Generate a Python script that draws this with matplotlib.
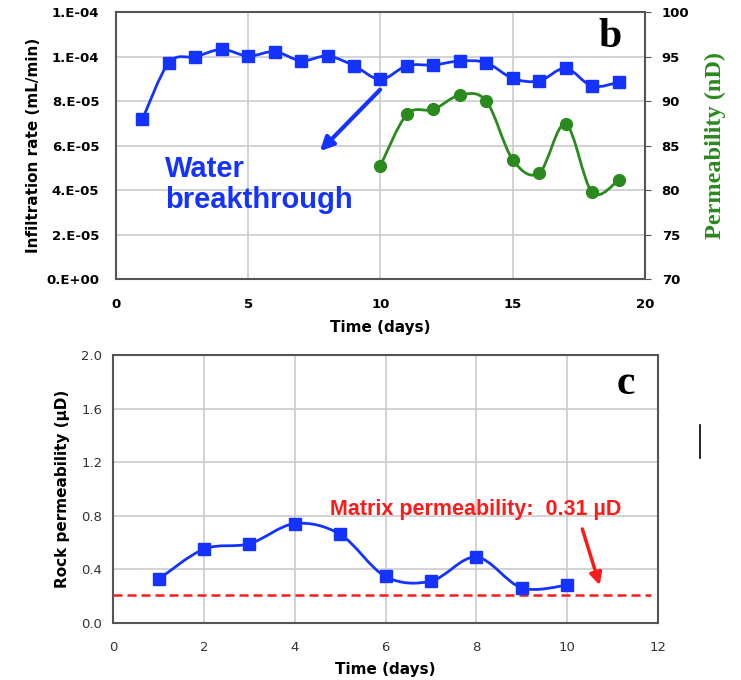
import matplotlib
matplotlib.use("Agg")
from matplotlib import pyplot as plt
from matplotlib.path import Path
from matplotlib.patches import PathPatch
from matplotlib.lines import Line2D

# panel b data
days_b = [1, 2, 3, 4, 5, 6, 7, 8, 9, 10, 11, 12, 13, 14, 15, 16, 17, 18, 19]
infiltration = [7.18e-5, 9.72e-5, 9.99e-5, 1.032e-4, 1.002e-4, 1.022e-4, 9.81e-5,
                1.002e-4, 9.59e-5, 8.97e-5, 9.59e-5, 9.62e-5, 9.80e-5, 9.72e-5,
                9.02e-5, 8.90e-5, 9.47e-5, 8.67e-5, 8.84e-5]
days_perm = [10, 11, 12, 13, 14, 15, 16, 17, 18, 19]
perm_nd = [82.75, 88.5, 89.05, 90.66, 90.0, 83.4, 81.9, 87.4, 79.75, 81.1]
left_ticks = [0, 2e-5, 4e-5, 6e-5, 8e-5, 1.0e-4, 1.2e-4]
left_labels = ["0.E+00", "2.E-05", "4.E-05", "6.E-05", "8.E-05", "1.E-04", "1.E-04"]

# panel c data
days_c = [1, 2, 3, 4, 5, 6, 7, 8, 9, 10]
rock_perm = [0.325, 0.55, 0.59, 0.74, 0.66, 0.345, 0.31, 0.49, 0.26, 0.28]
matrix_level = 0.21

BLUE = "#1433ff"
GREEN = "#2a8a1e"
RED = "#ff1a1a"


def smooth_line(ax, xs, ys, color, **kw):
    """Excel-like smoothed line drawn as cubic Bezier segments"""
    pts = list(zip(xs, ys))
    verts = [pts[0]]
    codes = [Path.MOVETO]
    n = len(pts)
    for i in range(n - 1):
        p0 = pts[i - 1] if i > 0 else pts[i]
        p1 = pts[i]
        p2 = pts[i + 1]
        p3 = pts[i + 2] if i + 2 < n else pts[i + 1]
        c1 = (p1[0] + (p2[0] - p0[0]) / 6, p1[1] + (p2[1] - p0[1]) / 6)
        c2 = (p2[0] - (p3[0] - p1[0]) / 6, p2[1] - (p3[1] - p1[1]) / 6)
        verts += [c1, c2, p2]
        codes += [Path.CURVE4] * 3
    ax.add_patch(PathPatch(Path(verts, codes), facecolor="none", edgecolor=color, **kw))


def style_frame(ax):
    for s in ax.spines.values():
        s.set_color("#555555")
        s.set_linewidth(1.5)
    ax.grid(True, color="#cccccc", linewidth=1.2)
    ax.set_axisbelow(True)


fig = plt.figure(figsize=(7.41, 6.80), dpi=100)

# ---- panel b
ax1 = fig.add_axes([0.1565, 0.5897, 0.7139, 0.3926])
style_frame(ax1)
ax1.set_xlim(0, 20)
ax1.set_ylim(0, 1.2e-4)
ax1.set_xticks([0, 5, 10, 15, 20])
ax1.set_yticks(left_ticks)
ax1.set_yticklabels(left_labels)
ax1.tick_params(axis="y", length=0, pad=12, labelsize=9.5)
ax1.tick_params(axis="x", length=0, pad=14, labelsize=9.5)
for lab in ax1.get_xticklabels() + ax1.get_yticklabels():
    lab.set_fontweight("bold")
smooth_line(ax1, days_b, infiltration, BLUE, linewidth=2, zorder=3)
ax1.plot(days_b, infiltration, "s", color=BLUE, markersize=8.5, zorder=4)
ax1.set_xlabel("Time (days)", fontsize=11, fontweight="bold", labelpad=6)
ax1.set_ylabel("Infiltration rate (mL/min)", fontsize=11, fontweight="bold", labelpad=4)

ax2 = ax1.twinx()
ax2.set_ylim(70, 100)
ax2.set_yticks([70, 75, 80, 85, 90, 95, 100])
ax2.tick_params(length=4, color="#555555", labelsize=9.5, pad=8)
for lab in ax2.get_yticklabels():
    lab.set_fontweight("bold")
for s in ax2.spines.values():
    s.set_visible(False)
smooth_line(ax2, days_perm, perm_nd, GREEN, linewidth=2, zorder=3)
ax2.plot(days_perm, perm_nd, "o", color=GREEN, markersize=8.5, zorder=4)
ax2.set_ylabel("Permeability (nD)", fontsize=17.5, fontweight="bold", color=GREEN,
               family="Liberation Serif", labelpad=11)

ax1.annotate("", xy=(7.64, 5.66e-5), xytext=(10.06, 8.6e-5),
             arrowprops=dict(arrowstyle="-|>", color=BLUE, lw=3, mutation_scale=20), zorder=5)
ax1.text(1.85, 4.58e-5, "Water", color=BLUE, fontsize=21, fontweight="bold",
         family="Liberation Sans", va="baseline", ha="left")
ax1.text(1.85, 3.19e-5, "breakthrough", color=BLUE, fontsize=21, fontweight="bold",
         family="Liberation Sans", va="baseline", ha="left")
ax1.text(19.13, 1.088e-4, "b", fontsize=30, fontweight="bold", family="Liberation Serif",
         ha="right", va="center")

# ---- panel c
ax3 = fig.add_axes([0.1529, 0.0843, 0.7347, 0.3937])
style_frame(ax3)
ax3.set_xlim(0, 12)
ax3.set_ylim(0, 2.0)
ax3.set_xticks(range(0, 13, 2))
ax3.set_yticks([0.0, 0.4, 0.8, 1.2, 1.6, 2.0])
ax3.set_yticklabels(["0.0", "0.4", "0.8", "1.2", "1.6", "2.0"])
ax3.tick_params(axis="y", length=0, pad=8, labelsize=9.5, labelcolor="#333333")
ax3.tick_params(axis="x", length=0, pad=13, labelsize=9.5, labelcolor="#333333")
ax3.plot([0, 11.85], [matrix_level, matrix_level], "--", color=RED, linewidth=1.8,
         dashes=(3.6, 2), zorder=2)
smooth_line(ax3, days_c, rock_perm, BLUE, linewidth=2, zorder=3)
ax3.plot(days_c, rock_perm, "s", color=BLUE, markersize=8.5, zorder=4)
ax3.set_xlabel("Time (days)", fontsize=11, fontweight="bold", labelpad=6)
ax3.set_ylabel("Rock permeability (µD)", fontsize=11, fontweight="bold", labelpad=8)
ax3.text(4.78, 0.805, "Matrix permeability:  0.31 µD", color=RED, fontsize=15.5,
         fontweight="bold", family="Liberation Sans", va="baseline", ha="left")
ax3.annotate("", xy=(10.74, 0.26), xytext=(10.32, 0.72),
             arrowprops=dict(arrowstyle="-|>", color=RED, lw=2.5, mutation_scale=18))
ax3.text(11.5, 1.78, "c", fontsize=30, fontweight="bold", family="Liberation Serif",
         ha="right", va="center")

# stray mark on the right of the page
fig.add_artist(Line2D([700 / 741, 700 / 741], [1 - 425 / 680, 1 - 458 / 680],
                      color="black", linewidth=1.2))

fig.savefig("out.png", dpi=100, facecolor="white")
